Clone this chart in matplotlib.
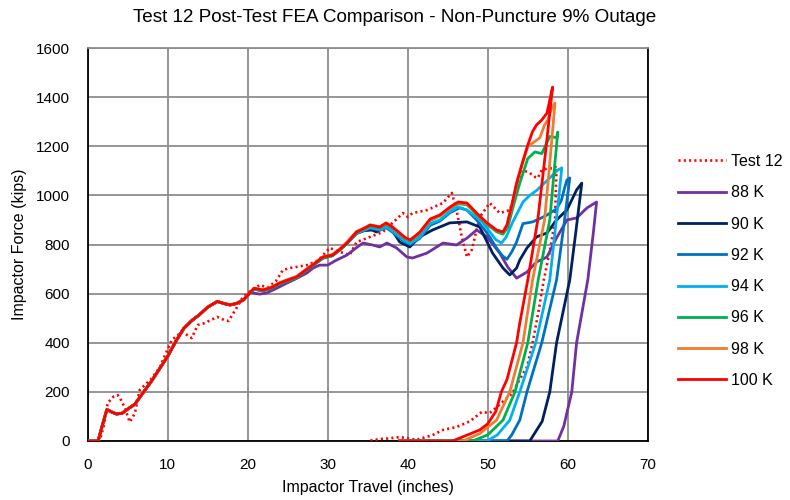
import matplotlib
matplotlib.use("Agg")
import matplotlib.pyplot as plt

plt.rcParams['font.family'] = ['Liberation Sans', 'DejaVu Sans']

# ---------------- data (inches, kips) ----------------
# shared loading path of the FEA runs (100 K loading)
base_x = [0, 1.3, 1.8, 2.4, 3.0, 3.6, 4.3, 5.0, 5.9, 7.0, 8.0, 9.0, 10.0, 11.0, 12.0, 13.0,
          14.0, 15.0, 16.2, 17.0, 17.8, 18.6, 19.5, 20.3]
base_f = [0, 0, 60, 128, 118, 110, 113, 130, 150, 200, 245, 295, 345, 405, 458, 490,
          515, 545, 568, 560, 554, 560, 575, 605]

# 100 K
k100_x = [20.8, 21.9, 23.0, 24.0, 25.0, 26.1, 27.0, 28.1, 29.4, 30.6, 31.5, 32.4, 33.6, 34.5,
          35.3, 36.5, 37.3, 38.1, 39.0, 39.6, 40.3, 41.5, 42.8, 44.0, 45.3, 46.3, 47.4, 48.6,
          49.9, 51.1, 51.9, 52.4, 53.0, 53.6, 54.3, 55.0, 55.6, 56.1, 56.75, 57.4, 57.75, 58.1,
          57.2, 56.25, 55.0, 54.0, 53.6, 52.4, 51.7, 51.0, 50.0, 49.0, 47.4, 45.6, 39.0]
k100_f = [622, 615, 625, 643, 655, 668, 690, 716, 749, 757, 780, 806, 851, 865,
          879, 871, 888, 871, 847, 830, 818, 850, 904, 920, 953, 973, 969, 928,
          888, 859, 851, 880, 960, 1050, 1130, 1205, 1260, 1287, 1307, 1335, 1388, 1441,
          1170, 900, 656, 480, 400, 250, 200, 120, 70, 45, 24, 0, 0]

# 98 K
k98_x = [20.8, 21.9, 23.0, 24.0, 25.0, 26.1, 27.0, 28.1, 29.4, 30.6, 31.5, 32.4, 33.6, 34.5,
         35.3, 36.5, 37.3, 38.1, 39.0, 39.6, 40.3, 41.5, 42.8, 44.0, 45.3, 46.3, 47.4, 48.6,
         49.9, 51.1, 51.9, 52.4, 53.0, 53.6, 54.3, 55.0, 55.6, 56.5, 57.1, 57.5, 58.0, 58.4,
         57.8, 57.1, 55.6, 54.4, 52.75, 51.1, 49.0, 46.9, 39.0]
k98_f = [622, 615, 628, 645, 658, 670, 692, 718, 750, 760, 782, 810, 853, 866,
         880, 872, 886, 870, 845, 828, 818, 848, 900, 918, 950, 970, 966, 926,
         886, 858, 850, 878, 955, 1045, 1125, 1200, 1213, 1234, 1287, 1307, 1356, 1376,
         1150, 900, 656, 400, 200, 85, 30, 0, 0]

# 96 K
k96_x = [20.8, 21.9, 23.0, 24.0, 25.0, 26.1, 27.0, 28.1, 29.4, 30.6, 31.5, 32.4, 33.6, 34.5,
         35.3, 36.5, 37.3, 38.1, 39.0, 39.6, 40.3, 41.5, 42.8, 44.0, 45.3, 46.3, 47.4, 48.6,
         49.9, 51.1, 51.9, 52.5, 53.1, 54.0, 55.0, 55.9, 56.75, 57.75, 58.6, 58.75,
         58.3, 57.75, 56.3, 55.0, 53.4, 51.9, 50.0, 48.1, 39.0]
k96_f = [618, 612, 622, 640, 652, 665, 688, 714, 745, 755, 778, 805, 848, 862,
         876, 868, 884, 868, 843, 826, 815, 845, 898, 916, 948, 966, 962, 922,
         882, 852, 842, 870, 945, 1050, 1150, 1177, 1170, 1240, 1235, 1258,
         1100, 900, 656, 400, 200, 85, 25, 0, 0]

# 94 K
k94_x = [20.8, 21.9, 23.0, 24.0, 25.0, 26.1, 27.0, 28.1, 29.4, 30.6, 31.5, 32.4, 33.6, 34.5,
         35.3, 36.5, 37.3, 38.1, 39.0, 39.6, 40.3, 41.5, 42.8, 44.0, 45.3, 46.3, 47.4, 48.6,
         49.4, 50.3, 51.0, 51.7, 52.3, 53.1, 54.4, 55.25, 56.1, 57.5, 58.75, 59.25,
         58.9, 58.4, 57.75, 56.0, 54.0, 52.75, 51.2, 49.9, 39.0]
k94_f = [618, 612, 622, 640, 652, 665, 688, 714, 745, 755, 778, 805, 846, 858,
         870, 860, 872, 855, 832, 815, 805, 830, 885, 900, 935, 953, 940, 910,
         888, 850, 820, 806, 830, 890, 973, 1000, 1020, 1063, 1103, 1112,
         1000, 850, 656, 400, 200, 85, 25, 0, 0]

# 92 K
k92_x = [20.8, 21.9, 23.0, 24.0, 25.0, 26.1, 27.0, 28.1, 29.4, 30.6, 31.5, 32.4, 33.6, 34.5,
         35.3, 36.5, 37.3, 38.1, 39.0, 39.6, 40.3, 41.5, 42.8, 44.0, 45.3, 46.5, 47.4, 48.6,
         49.6, 50.25, 51.0, 51.8, 52.4, 53.0, 53.6, 54.4, 55.6, 56.5, 57.4, 58.6, 59.2, 59.6,
         59.9, 60.25, 59.6, 58.6, 56.75, 54.9, 54.0, 53.0, 52.4, 39.0]
k92_f = [618, 612, 622, 640, 652, 665, 688, 714, 745, 755, 778, 805, 845, 856,
         866, 858, 868, 850, 826, 810, 800, 825, 878, 895, 930, 949, 940, 900,
         860, 831, 790, 755, 740, 770, 810, 885, 892, 905, 920, 945, 980, 1030,
         1063, 1071, 900, 656, 400, 200, 85, 25, 0, 0]

# 90 K
k90_x = [20.8, 21.9, 23.0, 24.0, 25.0, 26.1, 27.0, 28.1, 29.4, 30.6, 31.5, 32.4, 33.6, 34.5,
         35.5, 36.1, 37.4, 38.2, 39.0, 40.25, 41.5, 43.1, 45.25, 47.4, 49.0, 50.6, 51.9,
         52.75, 53.6, 54.0, 54.9, 56.1, 57.4, 58.6, 59.9, 61.1, 61.75,
         61.0, 60.25, 58.6, 57.75, 56.8, 55.25, 39.0]
k90_f = [618, 612, 622, 640, 652, 665, 688, 714, 745, 755, 778, 805, 845, 856,
         859, 851, 879, 850, 810, 790, 831, 859, 888, 892, 871, 765, 704,
         676, 704, 737, 786, 831, 847, 900, 941, 1022, 1050,
         850, 656, 400, 200, 80, 0, 0]

# 88 K
k88_x = [21.5, 22.4, 23.5, 24.9, 26.0, 27.4, 28.2, 29.0, 30.0, 31.0, 32.4, 33.5, 34.4, 35.6,
         36.5, 37.4, 38.6, 39.9, 40.6, 42.4, 44.4, 46.1, 47.4, 48.6, 49.9, 51.5, 52.5, 53.6,
         54.9, 56.1, 57.4, 58.6, 59.9, 61.1, 62.4, 63.6,
         63.2, 62.5, 61.1, 60.5, 59.5, 58.75, 39.0]
k88_f = [598, 603, 620, 643, 660, 684, 705, 716, 716, 735, 757, 785, 806, 798,
         790, 806, 786, 749, 745, 765, 806, 798, 826, 859, 831, 765, 708, 663,
         688, 729, 749, 827, 900, 908, 949, 973,
         850, 656, 400, 200, 60, 0, 0]

# Test 12 (measured)
test_x = [0, 1.5, 2.0, 2.5, 3.2, 3.75, 4.2, 4.6, 5.25, 5.9, 6.5, 7.4, 8.0, 9.0, 10.5, 11.8,
          13.0, 13.75, 14.6, 16.2, 17.1, 17.6, 18.6, 19.4, 20.5, 21.5, 22.5, 23.5, 24.4,
          25.25, 27.4, 28.8, 30.25, 31.5, 32.75, 33.6, 34.9, 36.9, 38.1, 39.4, 40.0, 40.6,
          42.4, 44.4, 45.5, 46.1, 46.75, 47.4, 48.0, 49.0, 50.25, 51.5, 52.75, 53.6, 54.4,
          55.25, 55.9, 56.25, 56.75, 57.5, 58.2, 58.6,
          58.4, 57.8, 57.0, 56.3, 55.6, 54.9, 53.8, 53.1, 52.4, 51.2, 50.25, 49.25, 47.75,
          46.1, 44.4, 43.1, 41.1, 39.0, 37.5, 36.5, 35.0]
test_f = [0, 0, 60, 155, 180, 187, 165, 138, 77, 113, 208, 236, 255, 300, 411, 445,
          419, 472, 480, 505, 492, 489, 541, 586, 615, 635, 625, 650, 696,
          704, 716, 735, 786, 770, 757, 810, 826, 851, 888, 928, 912, 928,
          940, 969, 1010, 940, 831, 749, 778, 912, 969, 928, 940, 1022, 1103,
          1091, 1075, 1071, 1103, 1110, 1110, 1120,
          900, 780, 656, 520, 400, 301, 240, 195, 175, 140, 114, 118, 80,
          57, 45, 24, 5, 16, 10, 8, 0]

labels = ['Test 12', '88 K', '90 K', '92 K', '94 K', '96 K', '98 K', '100 K']
colors = ['#FF0000', '#7030A0', '#002060', '#0070C0', '#00B0F0', '#00B050', '#ED7D31', '#FF0000']

x_ticks = [0, 10, 20, 30, 40, 50, 60, 70]
y_ticks = [0, 200, 400, 600, 800, 1000, 1200, 1400, 1600]

# ---------------- figure ----------------
fig = plt.figure(figsize=(7.9, 5.0), dpi=100)
ax = fig.add_axes([0.111, 0.118, 0.709, 0.786])

ax.plot(test_x, test_f, color=colors[0], lw=1.9, ls=(0, (0.8, 1.2)), label=labels[0], zorder=3)
fea = [(base_x, base_f, k88_x, k88_f), (base_x, base_f, k90_x, k90_f),
       (base_x, base_f, k92_x, k92_f), (base_x, base_f, k94_x, k94_f),
       (base_x, base_f, k96_x, k96_f), (base_x, base_f, k98_x, k98_f),
       (base_x, base_f, k100_x, k100_f)]
for i, (bx, bf, sx, sf) in enumerate(fea):
    ax.plot(list(bx) + list(sx), list(bf) + list(sf), color=colors[i + 1], lw=2.0,
            label=labels[i + 1], zorder=4 + i, solid_joinstyle='round')

ax.set_xlim(0, 70)
ax.set_ylim(0, 1600)
ax.set_xticks(x_ticks)
ax.set_yticks(y_ticks)
ax.grid(True, color='#8C8C8C', lw=1.3)
ax.set_axisbelow(True)
for s in ['left', 'bottom']:
    ax.spines[s].set_color('black')
    ax.spines[s].set_linewidth(1.3)
ax.spines['right'].set_color('black')
ax.spines['right'].set_linewidth(1.3)
ax.spines['top'].set_color('#8C8C8C')
ax.spines['top'].set_linewidth(1.3)
ax.tick_params(length=0, labelsize=11, colors='black')
ax.tick_params(axis='y', pad=13)
ax.tick_params(axis='x', pad=12)

ax.set_xlabel('Impactor Travel (inches)', fontsize=11.5, labelpad=6)
ax.set_ylabel('Impactor Force (kips)', fontsize=11.5, labelpad=6)
fig.suptitle('Test 12 Post-Test FEA Comparison - Non-Puncture 9% Outage', fontsize=13.6,
             x=0.5, y=0.982)

leg = fig.legend(loc='center left', bbox_to_anchor=(0.84, 0.458), frameon=False,
                 fontsize=11.5, handlelength=3.0, labelspacing=1.02, handletextpad=0.35)

fig.savefig('out.png', dpi=100)
